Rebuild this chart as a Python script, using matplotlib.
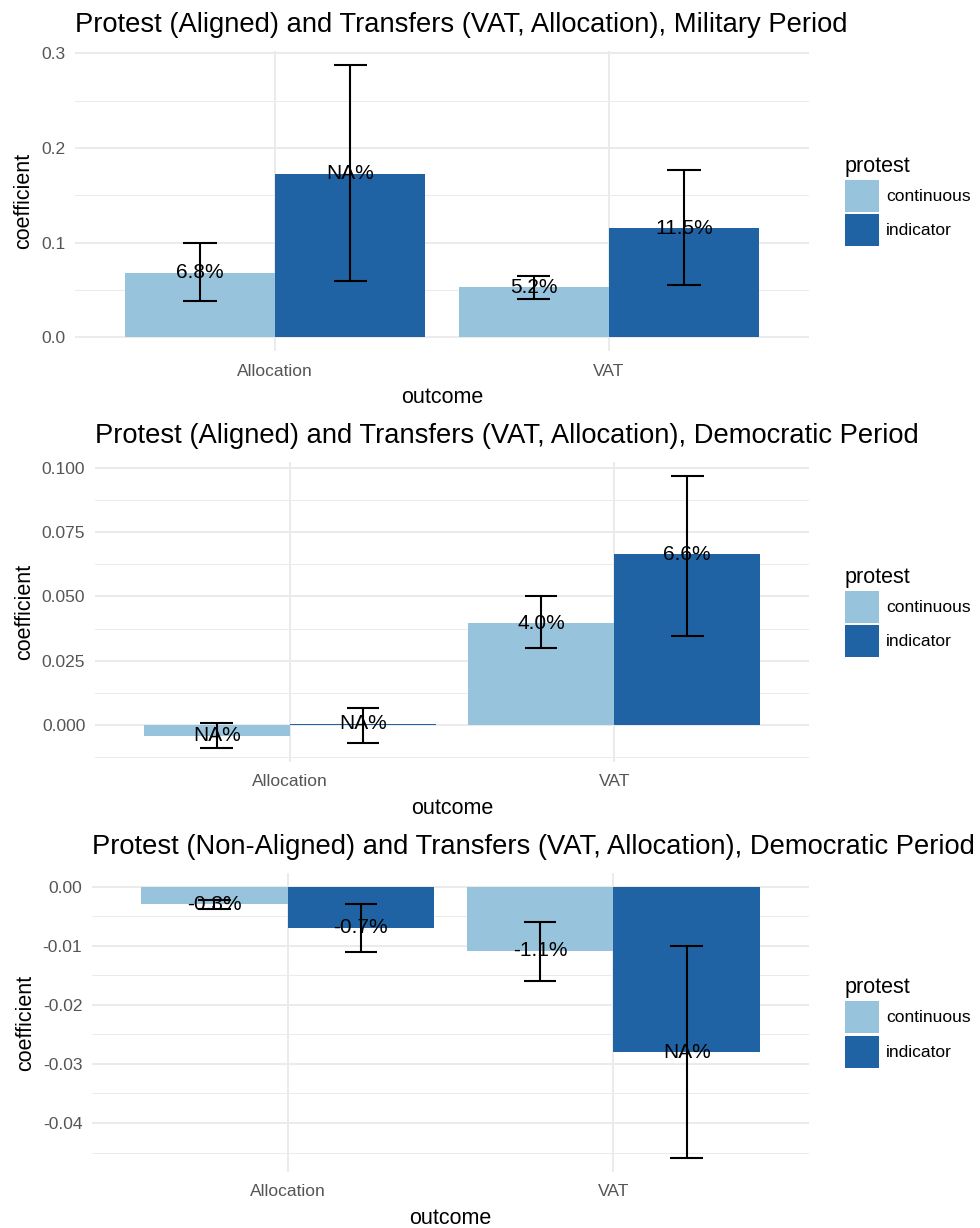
import matplotlib
matplotlib.use('Agg')
import matplotlib.pyplot as plt
from matplotlib.patches import Patch
from matplotlib.ticker import MultipleLocator, FormatStrFormatter
import numpy as np

plt.rcParams['font.family'] = ['Liberation Sans', 'DejaVu Sans']
plt.rcParams['axes.unicode_minus'] = False

# --- Data (rows = outcome, columns = protest measure) ---
outcomes = ['Allocation', 'VAT']
protest_types = ['continuous', 'indicator']

titles = ['Protest (Aligned) and Transfers (VAT, Allocation), Military Period',
          'Protest (Aligned) and Transfers (VAT, Allocation), Democratic Period',
          'Protest (Non-Aligned) and Transfers (VAT, Allocation), Democratic Period']

mil_coef = [[0.068, 0.173], [0.053, 0.115]]
mil_lo = [[0.038, 0.059], [0.041, 0.055]]
mil_hi = [[0.100, 0.288], [0.065, 0.177]]
mil_labels = [['6.8%', 'NA%'], ['5.2%', '11.5%']]

dem_coef = [[-0.0042, 0.0004], [0.0395, 0.0664]]
dem_lo = [[-0.0091, -0.0072], [0.030, 0.0348]]
dem_hi = [[0.0008, 0.0066], [0.050, 0.097]]
dem_labels = [['NA%', 'NA%'], ['4.0%', '6.6%']]

non_coef = [[-0.003, -0.007], [-0.0109, -0.028]]
non_lo = [[-0.0038, -0.0111], [-0.016, -0.046]]
non_hi = [[-0.0022, -0.003], [-0.006, -0.0101]]
non_labels = [['-0.3%', '-0.7%'], ['-1.1%', 'NA%']]

panels = [
    (mil_coef, mil_lo, mil_hi, mil_labels),
    (dem_coef, dem_lo, dem_hi, dem_labels),
    (non_coef, non_lo, non_hi, non_labels),
]

# --- Styling ---
colors = ['#97c3dc', '#1f63a5']
grid_col = '#ebebeb'
W, H = 980, 1228
# panel boxes in pixels: left, right, top, bottom
boxes = [(75, 809, 51, 351), (95, 809, 462, 762), (92, 809, 873, 1172)]
ticksteps = [(0.1, 0.05, '%.1f'), (0.025, 0.0125, '%.3f'), (0.01, 0.005, '%.2f')]

fig = plt.figure(figsize=(W / 100, H / 100), dpi=100)

bar_w = 0.45
offsets = [-bar_w / 2, bar_w / 2]
x = np.arange(1, len(outcomes) + 1)

for (coef, lo, hi, labels), title, box, (major, minor, fmt) in zip(panels, titles, boxes, ticksteps):
    l, r, t, b = box
    ax = fig.add_axes([l / W, 1 - b / H, (r - l) / W, (b - t) / H])
    ax.use_sticky_edges = False
    coef = np.array(coef)
    lo = np.array(lo)
    hi = np.array(hi)

    for j, ptype in enumerate(protest_types):
        xs = x + offsets[j]
        ax.bar(xs, coef[:, j], width=bar_w, color=colors[j], linewidth=0, zorder=2)
        ax.vlines(xs, lo[:, j], hi[:, j], color='black', linewidth=1.5, zorder=3)
        ax.hlines(lo[:, j], xs - 0.05, xs + 0.05, color='black', linewidth=1.5, zorder=3)
        ax.hlines(hi[:, j], xs - 0.05, xs + 0.05, color='black', linewidth=1.5, zorder=3)
        for k in range(len(outcomes)):
            ax.text(xs[k], coef[k, j], labels[k][j], ha='center', va='center',
                    fontsize=15, color='black', zorder=4)

    ax.margins(y=0.05)
    ax.set_xlim(0.4, 2.6)
    ax.set_xticks(x)
    ax.set_xticklabels(outcomes)
    ax.yaxis.set_major_locator(MultipleLocator(major))
    ax.yaxis.set_minor_locator(MultipleLocator(minor))
    ax.yaxis.set_major_formatter(FormatStrFormatter(fmt))

    ax.grid(True, which='major', axis='both', color=grid_col, linewidth=1.4, zorder=0)
    ax.grid(True, which='minor', axis='y', color=grid_col, linewidth=0.7, zorder=0)
    ax.set_axisbelow(True)
    for s in ax.spines.values():
        s.set_visible(False)
    ax.tick_params(axis='both', which='both', length=0, labelsize=12.5, labelcolor='#555555')
    ax.tick_params(axis='x', pad=9)
    ax.tick_params(axis='y', pad=7)

    ax.set_title(title, loc='left', fontsize=19.7, pad=14)
    ax.set_xlabel('outcome', fontsize=15.5, labelpad=6)
    ax.set_ylabel('coefficient', fontsize=15.5, labelpad=5)

    handles = [Patch(facecolor=c, edgecolor='none', label=p) for c, p in zip(colors, protest_types)]
    leg = ax.legend(handles=handles, title='protest', loc='center left',
                    bbox_to_anchor=(845 / W, 1 - (t + b) / 2 / H), bbox_transform=fig.transFigure,
                    frameon=False, fontsize=12.5, title_fontsize=15.5,
                    handlelength=1.95, handleheight=2.45, labelspacing=0.15,
                    handletextpad=0.4, borderpad=0, borderaxespad=0, alignment='left')

fig.savefig('out.png', dpi=100, facecolor='white')
